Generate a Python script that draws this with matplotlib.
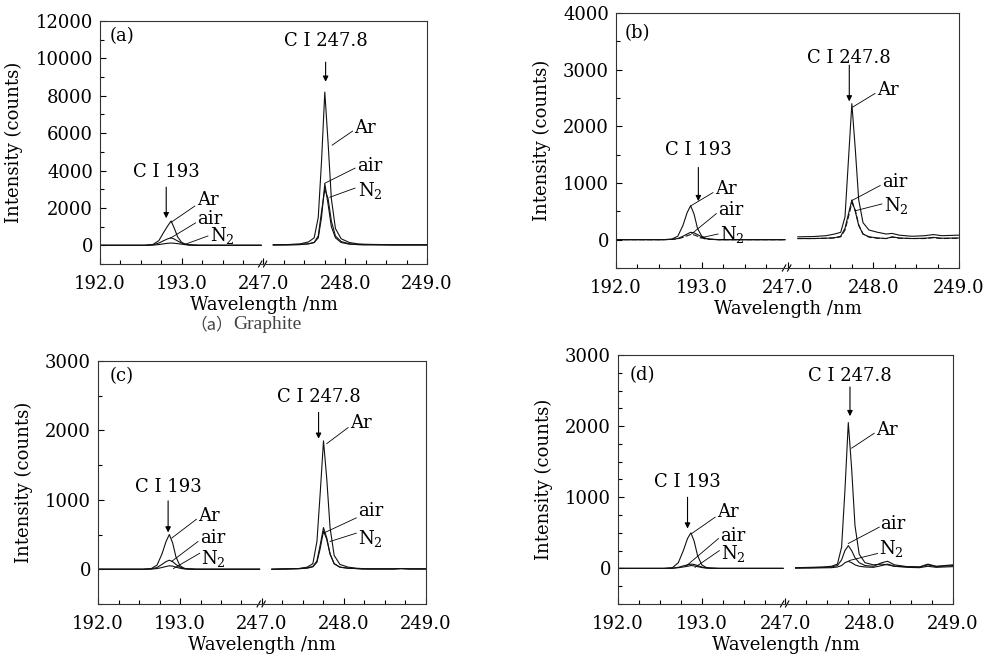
"""
Carbon emission lines C I 193 and C I 247.8 nm in Ar, air and N2,
four panels (a)-(d) with a broken wavelength axis.
"""
import matplotlib
matplotlib.use("Agg")
import matplotlib.pyplot as plt
from matplotlib.ticker import FixedLocator, MultipleLocator

plt.rcParams['font.family'] = ['DejaVu Serif']
plt.rcParams['mathtext.fontset'] = 'dejavuserif'

FS = 13

# wavelength grids (nm) of the two segments
WL_LEFT = [192.00, 192.55, 192.65, 192.72, 192.78, 192.83, 192.87, 192.91,
           192.95, 193.00, 193.05, 193.10, 193.20, 193.40, 193.97]
WL_RIGHT = [247.12, 247.30, 247.45, 247.55, 247.62, 247.67, 247.71, 247.75,
            247.79, 247.83, 247.88, 247.95, 248.05, 248.15, 248.22, 248.30,
            248.45, 248.60, 248.70, 248.80, 249.00]

XTICK_LABELS = ["192.0", "193.0", "247.0", "248.0", "249.0"]

# panel (a) graphite
A_AR_L = [0, 0, 50, 250, 700, 1050, 1300, 900, 450, 150, 50, 20, 0, 0, 0]
A_AIR_L = [0, 0, 30, 120, 250, 350, 400, 330, 230, 120, 50, 20, 0, 0, 0]
A_N2_L = [0, 0, 10, 40, 80, 110, 120, 110, 90, 60, 30, 10, 0, 0, 0]
A_AR_R = [30, 40, 80, 180, 400, 1500, 4500, 8200, 5500, 2500, 900, 350, 150,
          80, 60, 50, 40, 30, 30, 30, 30]
A_AIR_R = [20, 25, 40, 80, 150, 400, 1500, 3300, 2200, 1000, 400, 150, 60,
           40, 30, 30, 25, 20, 20, 20, 20]
A_N2_R = [20, 25, 40, 80, 150, 500, 1800, 3000, 2500, 1300, 500, 200, 80,
          40, 30, 30, 25, 20, 20, 20, 20]

# panel (b)
B_AR_L = [0, 0, 10, 60, 250, 480, 600, 450, 200, 60, 20, 10, 0, 0, 0]
B_AIR_L = [0, 0, 5, 20, 60, 100, 130, 120, 90, 50, 20, 5, 0, 0, 0]
B_N2_L = [0, 0, 5, 15, 40, 70, 90, 85, 60, 30, 10, 5, 0, 0, 0]
B_AR_R = [50, 55, 70, 100, 130, 400, 1400, 2400, 1600, 700, 300, 170, 130,
          100, 110, 80, 60, 70, 90, 70, 80]
B_AIR_R = [20, 20, 25, 35, 60, 200, 450, 700, 500, 250, 100, 50, 30, 20, 50,
           30, 20, 25, 40, 25, 30]
B_N2_R = [20, 20, 25, 30, 50, 170, 400, 650, 520, 260, 100, 45, 25, 20, 45,
          25, 20, 20, 35, 20, 25]

# panel (c)
C_AR_L = [0, 0, 10, 60, 220, 400, 500, 380, 180, 50, 15, 5, 0, 0, 0]
C_AIR_L = [0, 0, 5, 25, 70, 110, 130, 110, 70, 30, 10, 5, 0, 0, 0]
C_N2_L = [0, 0, 3, 10, 25, 40, 50, 45, 30, 15, 5, 2, 0, 0, 0]
C_AR_R = [0, 5, 10, 30, 80, 400, 1100, 1850, 1300, 600, 200, 70, 30, 15, 10,
          5, 5, 5, 10, 5, 5]
C_AIR_R = [0, 5, 10, 20, 40, 120, 350, 600, 450, 220, 80, 30, 15, 10, 5, 5,
           5, 5, 10, 5, 5]
C_N2_R = [0, 5, 8, 15, 35, 100, 300, 550, 430, 220, 80, 30, 15, 10, 5, 5, 5,
          5, 10, 5, 5]

# panel (d)
D_AR_L = [0, 0, 10, 80, 250, 420, 500, 380, 180, 50, 15, 5, 0, 0, 0]
D_AIR_L = [0, 0, 3, 15, 35, 50, 60, 55, 40, 20, 8, 3, 0, 0, 0]
D_N2_L = [0, 0, 2, 10, 20, 30, 40, 35, 25, 12, 5, 2, 0, 0, 0]
D_AR_R = [10, 15, 20, 30, 60, 300, 1100, 2050, 1400, 600, 200, 80, 50, 60,
          50, 30, 25, 20, 60, 30, 50]
D_AIR_R = [5, 10, 15, 20, 40, 120, 250, 320, 250, 150, 80, 40, 30, 80, 100,
           50, 25, 20, 50, 25, 40]
D_N2_R = [5, 5, 8, 10, 20, 40, 80, 100, 80, 50, 30, 20, 15, 40, 60, 30, 15,
          10, 30, 15, 25]


def pos_left(wl):
    return [w - 192.0 for w in wl]


def pos_right(wl):
    return [w - 247.0 + 2.0 for w in wl]


# layout of each panel: axes rect, y range, ticks, curves, annotations
# labels: (text, x, y, leader x0, y0, x1, y1)
PANELS = [
    dict(rect=[0.1004, 0.6042, 0.3283, 0.3643], ylim=(-1000, 12000),
         ymaj=2000, ymin=1000, tag="(a)", tagpos=(0.03, 0.975),
         left=(A_AR_L, A_AIR_L, A_N2_L), right=(A_AR_R, A_AIR_R, A_N2_R),
         c193=(0.81, 3910, 3110, 1450), c248=(2.76, 10940, 9800, 8750),
         labels=[("Ar", 1.185, 2420, 0.87, 1230, 1.16, 2100),
                 ("air", 1.19, 1400, 0.86, 380, 1.17, 1200),
                 ("N$_2$", 1.35, 500, 1.04, 50, 1.32, 500),
                 ("Ar", 3.11, 6270, 2.84, 5360, 3.09, 6110),
                 ("air", 3.15, 4240, 2.75, 3320, 3.12, 4130),
                 ("N$_2$", 3.15, 2950, 2.81, 2570, 3.12, 3060)],
         n2style='-'),
    dict(rect=[0.6185, 0.5982, 0.3444, 0.3823], ylim=(-500, 4000),
         ymaj=1000, ymin=500, tag="(b)", tagpos=(0.026, 0.955),
         left=(B_AR_L, B_AIR_L, B_N2_L), right=(B_AR_R, B_AIR_R, B_N2_R),
         c193=(0.96, 1575, 1275, 680), c248=(2.72, 3200, 3080, 2440),
         labels=[("Ar", 1.15, 900, 0.875, 600, 1.13, 830),
                 ("air", 1.19, 530, 0.88, 100, 1.17, 460),
                 ("N$_2$", 1.21, 100, 0.98, 30, 1.19, 100),
                 ("Ar", 3.04, 2640, 2.76, 2340, 3.02, 2580),
                 ("air", 3.1, 1010, 2.75, 690, 3.08, 955),
                 ("N$_2$", 3.12, 600, 2.79, 510, 3.1, 630)],
         n2style=(0, (5, 2))),
    dict(rect=[0.0984, 0.0945, 0.3293, 0.3643], ylim=(-500, 3000),
         ymaj=1000, ymin=500, tag="(c)", tagpos=(0.035, 0.975),
         left=(C_AR_L, C_AIR_L, C_N2_L), right=(C_AR_R, C_AIR_R, C_N2_R),
         c193=(0.855, 1190, 985, 530), c248=(2.69, 2480, 2260, 1880),
         labels=[("Ar", 1.22, 770, 0.9, 450, 1.2, 720),
                 ("air", 1.24, 450, 0.9, 115, 1.22, 400),
                 ("N$_2$", 1.26, 160, 0.92, 10, 1.24, 230),
                 ("Ar", 3.07, 2100, 2.79, 1810, 3.05, 2040),
                 ("air", 3.17, 840, 2.75, 520, 3.15, 740),
                 ("N$_2$", 3.17, 450, 2.83, 400, 3.15, 520)],
         n2style='-'),
    dict(rect=[0.6205, 0.0945, 0.3363, 0.3733], ylim=(-500, 3000),
         ymaj=1000, ymin=250, tag="(d)", tagpos=(0.036, 0.955),
         left=(D_AR_L, D_AIR_L, D_N2_L), right=(D_AR_R, D_AIR_R, D_N2_R),
         c193=(0.83, 1210, 1000, 560), c248=(2.77, 2700, 2550, 2140),
         labels=[("Ar", 1.18, 790, 0.88, 490, 1.16, 720),
                 ("air", 1.22, 460, 0.82, 40, 1.2, 420),
                 ("N$_2$", 1.23, 210, 0.92, 15, 1.21, 250),
                 ("Ar", 3.08, 1940, 2.79, 1690, 3.06, 1900),
                 ("air", 3.13, 630, 2.75, 350, 3.12, 580),
                 ("N$_2$", 3.12, 280, 2.76, 110, 3.1, 210)],
         n2style='-'),
]

fig = plt.figure(figsize=(9.96, 6.67), dpi=100)

for p in PANELS:
    ax = fig.add_axes(p["rect"])
    for i, (yl, yr) in enumerate(zip(p["left"], p["right"])):
        ls = p["n2style"] if i == 2 else '-'
        ax.plot(pos_left(WL_LEFT), yl, color='#111111', lw=0.8, ls=ls)
        ax.plot(pos_right(WL_RIGHT), yr, color='#111111', lw=0.8, ls=ls)

    ax.set_xlim(0, 4)
    ax.xaxis.set_major_locator(FixedLocator([0, 1, 2, 3, 4]))
    ax.set_xticklabels(XTICK_LABELS)
    ax.xaxis.set_minor_locator(MultipleLocator(0.25))
    ax.yaxis.set_major_locator(MultipleLocator(p["ymaj"]))
    ax.yaxis.set_minor_locator(MultipleLocator(p["ymin"]))
    ax.set_ylim(*p["ylim"])
    ax.tick_params(which='both', direction='in', top=False, right=False,
                   labelsize=FS, width=0.8)
    ax.tick_params(axis='x', which='both', pad=8)
    ax.tick_params(axis='y', which='both', pad=5)
    ax.tick_params(which='major', length=4)
    ax.tick_params(which='minor', length=3)
    for s in ax.spines.values():
        s.set_linewidth(0.8)
        s.set_color('#333333')
    ax.set_xlabel("Wavelength /nm", fontsize=FS, labelpad=2)
    ax.set_ylabel("Intensity (counts)", fontsize=FS, labelpad=9)

    # axis break marks
    tr = ax.get_xaxis_transform()
    for dx in (-0.04, 0.02):
        ax.plot([1.98 + dx, 2.02 + dx], [-0.012, 0.012], transform=tr,
                color='black', lw=0.8, clip_on=False)

    ax.text(p["tagpos"][0], p["tagpos"][1], p["tag"], transform=ax.transAxes,
            ha='left', va='top', fontsize=FS)

    # C I line markers
    for (x, ty, t0, t1), name in ((p["c193"], "C I 193"),
                                  (p["c248"], "C I 247.8")):
        ax.text(x, ty, name, ha='center', va='center', fontsize=FS)
        ax.annotate('', xy=(x, t1), xytext=(x, t0),
                    arrowprops=dict(arrowstyle='-|>', color='black', lw=0.8,
                                    mutation_scale=8, shrinkA=0, shrinkB=0))

    for name, tx, ty, x0, y0, x1, y1 in p["labels"]:
        ax.plot([x0, x1], [y0, y1], color='black', lw=0.6)
        ax.text(tx, ty, name, ha='left', va='center', fontsize=FS)

# caption under panel (a)
fig.text(0.191, 0.513, "（a）", ha='left', va='center', fontsize=12,
         color='#444444', family=['Noto Sans CJK SC'])
fig.text(0.234, 0.513, "Graphite", ha='left', va='center', fontsize=14,
         color='#444444', family=['Liberation Serif'])

fig.savefig("out.png", dpi=100)
